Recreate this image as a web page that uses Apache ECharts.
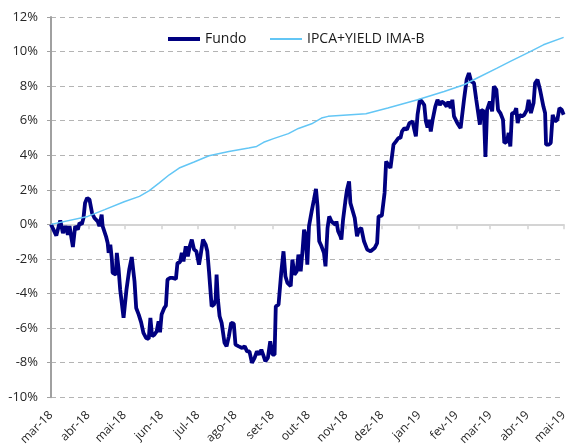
<!DOCTYPE html>
<html lang="pt">
<head>
    <meta charset="UTF-8">
    <script src="https://cdn.jsdelivr.net/npm/echarts@6/dist/echarts.min.js"></script>
    <title>Fundo x IPCA+YIELD IMA-B</title>
    <style>
        html, body { margin: 0; padding: 0; background: #fff; }
        #chart { width: 570px; height: 448px; }
    </style>
</head>
<body>
<div id="chart"></div>
<script type="text/javascript">
    // dias corridos desde 01/03/2018
    var fundoDias = [0, 4.4, 7.7, 9.9, 12.1, 14.0, 15.4, 18.2, 20.1, 22.3, 23.7, 25.6, 27.0, 28.3, 30.0, 32.0,
        34.1, 36.1, 38.8, 40.2, 42.1, 42.9, 45.7, 47.1, 47.9, 49.3, 50.6, 51.2, 53.9, 54.7, 56.1, 57.5,
        60.3, 62.7, 65.0, 67.1, 69.4, 70.8, 72.9, 74.9, 76.8, 79.0, 81.2, 82.6, 84.0, 85.9, 87.8, 89.4,
        90.6, 91.9, 94.1, 95.5, 96.8, 98.8, 101.0, 103.8, 105.1, 107.1, 108.7, 110.1, 112.0, 113.7, 115.3,
        117.0, 118.9, 120.8, 123.0, 124.4, 126.3, 128.5, 129.9, 131.3, 133.5, 135.4, 136.8, 137.6, 138.7,
        140.1, 141.8, 143.4, 144.2, 145.9, 147.8, 149.7, 151.9, 153.3, 156.0, 158.8, 161.0, 162.9, 164.9,
        167.0, 169.2, 171.1, 173.1, 174.8, 176.7, 178.1, 180.2, 182.2, 184.1, 185.8, 186.8, 189.1, 191.3,
        193.2, 194.8, 196.5, 199.2, 200.6, 202.3, 204.2, 205.6, 207.5, 209.1, 210.3, 211.6, 213.0, 214.4,
        216.6, 218.5, 220.2, 221.5, 222.9, 224.8, 226.8, 228.1, 229.8, 231.2, 233.1, 234.5, 236.4, 237.2,
        238.6, 240.5, 241.3, 242.7, 244.6, 246.0, 247.7, 248.8, 250.4, 252.4, 254.3, 255.9, 257.8, 260.1,
        262.8, 265.6, 268.9, 271.0, 272.2, 274.9, 276.2, 277.2, 278.5, 279.9, 282.1, 283.4, 284.6, 286.7,
        288.7, 290.4, 291.7, 293.7, 295.8, 297.8, 299.1, 300.5, 301.9, 303.2, 304.6, 306.5, 308.2, 310.2,
        311.5, 312.9, 314.3, 315.6, 317.0, 319.3, 321.2, 323.1, 324.7, 326.7, 328.8, 330.2, 332.1, 333.5,
        334.9, 337.7, 340.4, 341.8, 343.2, 345.4, 347.3, 349.2, 351.5, 353.4, 354.8, 356.4, 357.5, 359.7,
        361.0, 362.4, 364.7, 366.6, 368.0, 370.1, 371.5, 373.4, 375.6, 376.7, 379.0, 380.3, 381.7, 383.1,
        385.0, 386.6, 387.8, 389.4, 391.3, 393.2, 395.5, 396.9, 398.8, 401.0, 402.3, 404.3, 406.4, 409.2,
        410.6, 411.4, 413.4, 415.3, 416.9, 418.8, 420.8, 422.5, 424.4, 426.0];
    var fundoValores = [0.0, -0.65, 0.23, -0.5, -0.1, -0.6, -0.1, -1.31, -0.1, -0.3, 0.08, 0.0, 0.37, 1.24, 1.53, 1.43,
        0.66, 0.37, 0.17, -0.1, 0.56, -0.1, -0.69, -1.08, -1.65, -1.17, -2.04, -2.81, -2.91, -1.65, -2.52, -3.78,
        -5.41, -3.78, -2.62, -1.89, -3.3, -4.84, -5.22, -5.67, -6.28, -6.57, -6.63, -5.41, -6.48, -6.38, -6.19, -5.61,
        -6.25, -5.22, -4.84, -4.7, -3.2, -3.1, -3.1, -3.16, -2.23, -2.2, -1.65, -2.14, -1.27, -1.85, -1.27,
        -0.88, -1.46, -1.56, -2.33, -1.75, -0.88, -1.17, -1.56, -2.72, -4.74, -4.64, -4.35, -2.91, -4.35,
        -5.32, -5.7, -5.74, -6.86, -7.06, -6.48, -5.7, -5.74, -6.96, -7.06, -7.15, -7.06, -7.35, -7.35,
        -8.02, -7.73, -7.35, -7.54, -7.25, -7.63, -7.92, -7.73, -6.77, -7.54, -7.54, -4.74, -4.64, -2.81,
        -1.56, -3.0, -3.39, -3.58, -2.04, -2.91, -2.72, -1.75, -2.72, -1.46, -0.31, -0.6, -2.33, -0.1,
        0.75, 1.43, 2.05, 1.04, -0.98, -1.27, -1.65, -2.43, -0.21, 0.46, 0.17, 0.08, -0.02, 0.17,
        -0.4, -0.69, -0.88, 0.27, 1.33, 2.01, 2.49, 1.24, 1.14, 0.37, -0.69, -0.31, -0.21, -0.98,
        -1.46, -1.56, -1.37, -1.08, 0.46, 0.5, 0.6, 1.82, 3.64, 3.55, 3.26, 3.35, 4.61, 4.8,
        5.0, 5.0, 5.38, 5.57, 5.48, 5.86, 5.77, 5.96, 5.48, 5.09, 6.34, 7.21, 7.11, 6.9,
        5.96, 5.6, 6.06, 5.38, 6.0, 6.8, 7.21, 6.9, 7.11, 7.02, 6.82, 7.11, 6.73, 7.21,
        6.25, 5.86, 5.57, 5.67, 7.21, 8.37, 8.76, 8.27, 8.18, 7.21, 7.21, 5.77, 6.63, 6.54,
        3.9, 6.63, 7.11, 6.54, 7.98, 7.79, 6.63, 6.44, 6.06, 4.71, 4.8, 5.29, 4.51, 6.44,
        6.44, 6.73, 5.86, 6.34, 6.25, 6.34, 6.63, 7.21, 6.44, 7.02, 8.18, 8.37, 7.79, 6.82,
        6.44, 4.61, 4.61, 4.71, 6.34, 5.96, 6.06, 6.73, 6.63, 6.34];

    var ipcaDias = [0, 30.5, 44.6, 60.8, 73.5, 81.7, 90.0, 98.3, 106.5, 118.9, 131.3, 147.8, 164.3, 170.9,
        176.7, 184.9, 197.3, 205.6, 216.6, 224.8, 230.3, 261.7, 279.9, 304.6, 326.7, 343.2, 354.2,
        370.7, 381.7, 398.2, 409.2, 426];
    var ipcaValores = [0, 0.46, 0.85, 1.31, 1.62, 1.95, 2.4, 2.87, 3.26, 3.61, 3.97, 4.22, 4.42, 4.51,
        4.75, 4.96, 5.25, 5.55, 5.82, 6.15, 6.25, 6.4, 6.73, 7.21, 7.69, 8.08, 8.47,
        9.04, 9.43, 10.0, 10.39, 10.82];

    var meses = ['jan', 'fev', 'mar', 'abr', 'mai', 'jun', 'jul', 'ago', 'set', 'out', 'nov', 'dez'];

    var inicio = new Date(2018, 2, 1).getTime();
    var fim = new Date(2019, 4, 1).getTime();
    var DIA = 86400000;

    var corFundo = '#000080';
    var corIpca = '#63c6f5';

    function juntar(dias, valores) {
        var out = [];
        for (var i = 0; i < dias.length; i++) {
            out.push([inicio + dias[i] * DIA, valores[i]]);
        }
        return out;
    }

    function rotuloMes(v) {
        var d = new Date(v);
        return meses[d.getMonth()] + '-' + String(d.getFullYear()).slice(2);
    }

    var fonte = 'Open Sans';
    var myChart = echarts.init(document.getElementById('chart'));

    var legendaTexto = { fontFamily: fonte, fontSize: 14, color: '#1a1a1a' };

    var option = {
        animation: false,
        textStyle: { fontFamily: fonte },
        legend: [
            {
                top: 27,
                left: 163,
                icon: 'rect',
                itemWidth: 32,
                itemHeight: 4,
                textStyle: legendaTexto,
                data: ['Fundo']
            },
            {
                top: 27,
                left: 265,
                icon: 'rect',
                itemWidth: 32,
                itemHeight: 2,
                textStyle: legendaTexto,
                data: ['IPCA+YIELD IMA-B']
            }
        ],
        grid: { left: 51, right: 3, top: 17, bottom: 50, containLabel: false },
        xAxis: [
            {
                type: 'time',
                min: inicio,
                max: fim,
                splitNumber: 14,
                minInterval: 28 * DIA,
                maxInterval: 31 * DIA,
                axisLine: { show: false, onZero: false },
                axisTick: { show: false },
                splitLine: { show: false },
                axisLabel: {
                    rotate: 45,
                    margin: 16,
                    fontSize: 12,
                    color: '#262626',
                    hideOverlap: false,
                    showMinLabel: true,
                    showMaxLabel: true,
                    formatter: rotuloMes
                }
            },
            {
                type: 'time',
                position: 'bottom',
                min: inicio,
                max: fim,
                splitNumber: 14,
                minInterval: 28 * DIA,
                maxInterval: 31 * DIA,
                axisLine: { show: true, onZero: true, lineStyle: { color: '#d4d4d4', width: 2 } },
                axisTick: { show: true, length: 5, lineStyle: { color: '#d4d4d4', width: 1.5 } },
                axisLabel: { show: false },
                splitLine: { show: false }
            }
        ],
        yAxis: {
            type: 'value',
            min: -10,
            max: 12,
            interval: 2,
            axisLine: { show: true, lineStyle: { color: '#a0a0a0', width: 2 } },
            axisTick: { show: true, length: 4, lineStyle: { color: '#a0a0a0' } },
            axisLabel: {
                margin: 13,
                fontSize: 13,
                color: '#262626',
                formatter: function (v) { return v + '%'; }
            },
            splitLine: { show: true, lineStyle: { color: '#b4b4b4', type: [5, 4], width: 1 } }
        },
        series: [
            {
                name: 'Fundo',
                type: 'line',
                xAxisIndex: 0,
                symbol: 'none',
                lineStyle: { color: corFundo, width: 3.8 },
                itemStyle: { color: corFundo },
                data: juntar(fundoDias, fundoValores)
            },
            {
                name: 'IPCA+YIELD IMA-B',
                type: 'line',
                xAxisIndex: 0,
                symbol: 'none',
                lineStyle: { color: corIpca, width: 1.5 },
                itemStyle: { color: corIpca },
                data: juntar(ipcaDias, ipcaValores)
            }
        ]
    };

    if (option && typeof option === 'object') {
        myChart.setOption(option);
    }
</script>
</body>
</html>
